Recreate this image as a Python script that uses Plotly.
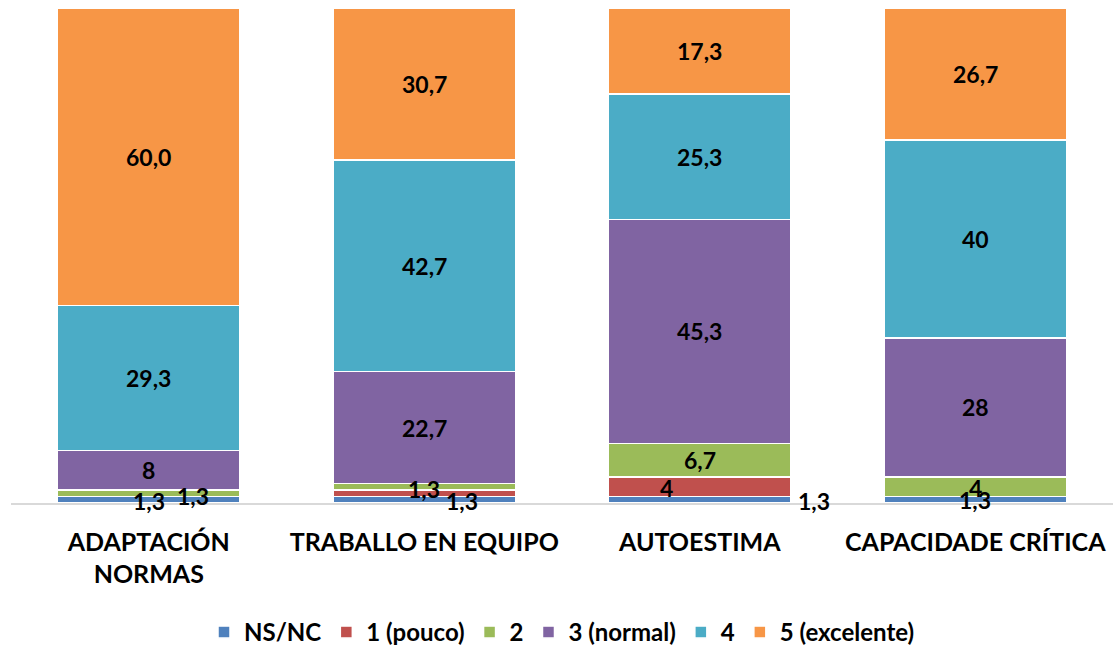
import plotly.graph_objects as go

categories = ["ADAPTACIÓN<br>NORMAS", "TRABALLO EN EQUIPO", "AUTOESTIMA", "CAPACIDADE CRÍTICA"]
series_names = ["NS/NC", "1 (pouco)", "2", "3 (normal)", "4", "5 (excelente)"]

ns_nc = [1.3, 1.3, 1.3, 1.3]
pouco = [0, 1.3, 4, 0]
dous = [1.3, 1.3, 6.7, 4]
normal = [8, 22.7, 45.3, 28]
catro = [29.3, 42.7, 25.3, 40]
excelente = [60.0, 30.7, 17.3, 26.7]

# labels as printed in the source chart ("" = no label shown)
ns_nc_lbl = ["1,3", "1,3", "1,3", "1,3"]
pouco_lbl = ["", "", "4", ""]
dous_lbl = ["1,3", "1,3", "6,7", "4"]
normal_lbl = ["8", "22,7", "45,3", "28"]
catro_lbl = ["29,3", "42,7", "25,3", "40"]
excelente_lbl = ["60,0", "30,7", "17,3", "26,7"]

colors = ["#4F81BD", "#C0504D", "#9BBB59", "#8064A2", "#4BACC6", "#F79646"]
values = [ns_nc, pouco, dous, normal, catro, excelente]
labels = [ns_nc_lbl, pouco_lbl, dous_lbl, normal_lbl, catro_lbl, excelente_lbl]

# manual nudges for the crowded small labels (series index, category index) -> (dx, dy)
nudges = {
    (0, 0): (0, -1), (2, 0): (44, -3),
    (0, 1): (38, -1), (2, 1): (0, -2),
    (0, 2): (114, -1), (1, 2): (-33, -1),
    (0, 3): (0, 0), (2, 3): (0, -1),
}

FONT = "Lato"

fig = go.Figure()
for name, vals, col in zip(series_names, values, colors):
    fig.add_trace(go.Bar(
        x=categories, y=vals, name=name,
        marker=dict(color=col, line=dict(color="white", width=1.5)),
        hoverinfo="skip",
    ))

# data labels at segment midpoints
base = [0, 0, 0, 0]
for si, (vals, lbls) in enumerate(zip(values, labels)):
    for ci, cat in enumerate(categories):
        mid = base[ci] + vals[ci] / 2
        if lbls[ci]:
            dx, dy = nudges.get((si, ci), (0, 0))
            fig.add_annotation(
                x=cat, y=mid, text=lbls[ci], showarrow=False,
                xshift=dx, yshift=dy,
                font=dict(family=FONT, size=23, color="black", weight="bold"),
            )
        base[ci] += vals[ci]

fig.update_layout(
    barmode="stack",
    bargap=0.336,
    width=1113, height=655,
    margin=dict(l=11, r=0, t=8, b=150),
    plot_bgcolor="white",
    paper_bgcolor="white",
    font=dict(family=FONT, color="black"),
    legend=dict(
        orientation="h", x=0.5, xanchor="center", y=-0.262, yanchor="middle",
        font=dict(family=FONT, size=24, color="black", weight="bold"),
        traceorder="normal",
    ),
    xaxis=dict(
        showline=True, linecolor="#D9D9D9", linewidth=1.5,
        tickfont=dict(family=FONT, size=25, color="black", weight="bold"),
        ticks="",
        ticklabelstandoff=16,
    ),
    yaxis=dict(range=[0, 100], visible=False),
)

fig.write_html("out.html", post_script="document.body.style.margin='0';",
               config={"displayModeBar": False})
